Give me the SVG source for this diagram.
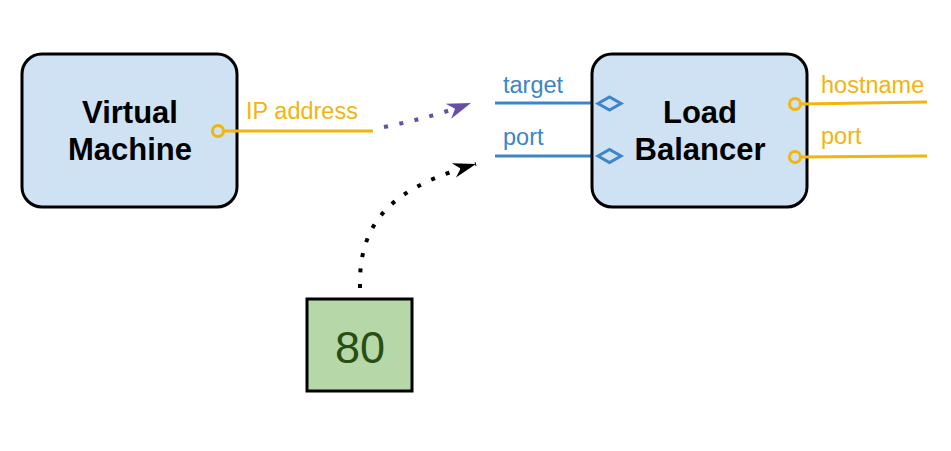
<svg xmlns="http://www.w3.org/2000/svg" width="951" height="451" viewBox="0 0 951 451">
<style>
.box{fill:#cfe2f3;stroke:#000;stroke-width:3}
.title{font-family:"Liberation Sans",Arial,sans-serif;font-weight:bold;font-size:31px;fill:#000;text-anchor:middle}
.lbl{font-family:"Liberation Sans",Arial,sans-serif;font-size:23.5px}
.gold{stroke:#f1b50c;stroke-width:3;fill:none}
.goldt{fill:#f1b50c}
.blue{stroke:#3d85c6;stroke-width:3;fill:none}
.bluet{fill:#3d85c6}
.port{fill:#cfe2f3;stroke:#f1b50c;stroke-width:3}
.dia{fill:#cfe2f3;stroke:#3d85c6;stroke-width:3}
.dots{fill:none;stroke-width:4;stroke-dasharray:4 11.5}
</style>
<defs>
<marker id="ap" markerUnits="userSpaceOnUse" markerWidth="30" markerHeight="30" refX="24" refY="10" orient="auto" viewBox="0 0 30 20">
<path d="M24,10 L0,2 L7,10 L0,18 Z" fill="#674ea7"/>
</marker>
<marker id="ak" markerUnits="userSpaceOnUse" markerWidth="30" markerHeight="30" refX="23" refY="10" orient="auto" viewBox="0 0 30 20">
<path d="M23,10 L0,2.5 L7,10 L0,17.5 Z" fill="#000"/>
</marker>
</defs>
<g id="connectors">
<path class="dots" stroke="#674ea7" d="M384,127 Q430,118 471,103" marker-end="url(#ap)"/>
<path class="dots" stroke="#000" d="M360,288 C358,215 400,186 476,164" marker-end="url(#ak)"/>
</g>
<g id="vm">
<rect class="box" x="22" y="54" width="215" height="153" rx="20"/>
<text class="title" x="130" y="123">Virtual</text>
<text class="title" x="130" y="160">Machine</text>
<line class="gold" x1="223" y1="131" x2="373" y2="131"/>
<circle class="port" cx="218" cy="131" r="5.5"/>
<text class="lbl goldt" x="246" y="119">IP address</text>
</g>
<g id="lb">
<line class="blue" x1="495" y1="103" x2="598" y2="103"/>
<line class="blue" x1="495" y1="156" x2="598" y2="156"/>
<text class="lbl bluet" x="503" y="93">target</text>
<text class="lbl bluet" x="503" y="145">port</text>
<rect class="box" x="592" y="54" width="215" height="153" rx="20"/>
<polygon class="dia" points="598,103.5 609.5,97 621,103.5 609.5,110"/>
<polygon class="dia" points="598,156 609.5,149.5 621,156 609.5,162.5"/>
<text class="title" x="700" y="123">Load</text>
<text class="title" x="700" y="160">Balancer</text>
<line class="gold" x1="801" y1="104" x2="927" y2="102"/>
<line class="gold" x1="801" y1="157" x2="927" y2="156"/>
<circle class="port" cx="795" cy="104" r="5.5"/>
<circle class="port" cx="795" cy="157" r="5.5"/>
<text class="lbl goldt" x="821" y="93">hostname</text>
<text class="lbl goldt" x="821" y="144">port</text>
</g>
<g id="n80">
<rect x="307" y="299" width="105" height="92" fill="#b6d7a8" stroke="#000" stroke-width="3"/>
<text x="360" y="363" font-family="'Liberation Sans',Arial,sans-serif" font-size="45" fill="#274e13" text-anchor="middle">80</text>
</g>
</svg>
